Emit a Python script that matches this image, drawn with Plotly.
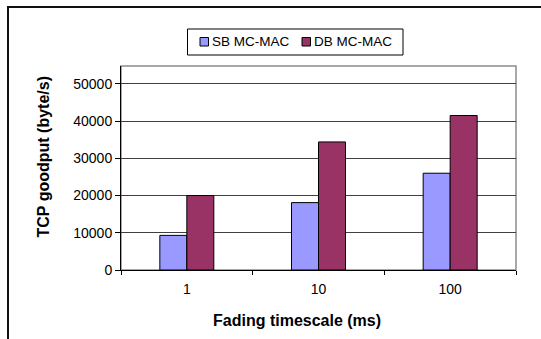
import plotly.graph_objects as go

# Fading timescale categories (ms) and TCP goodput (byte/s) per MAC scheme
categories = ["1", "10", "100"]
sb_mc_mac = [9300, 18100, 26000]
db_mc_mac = [20000, 34400, 41500]
y_ticks = [0, 10000, 20000, 30000, 40000, 50000]
y_tick_text = [str(v) for v in y_ticks]

series = [
    ("SB MC-MAC", sb_mc_mac, "#9999FF"),
    ("DB MC-MAC", db_mc_mac, "#993366"),
]

W, H = 541, 339
L, R, T, B = 121, 516, 66, 270  # plot area edges in pixels


def px_x(x):
    return (x - L) / (R - L)


def px_y(y):
    return (B - y) / (B - T)


font = "Liberation Sans, Arial, sans-serif"

fig = go.Figure()
for name, values, color in series:
    fig.add_trace(go.Bar(
        x=categories, y=values, name=name,
        marker=dict(color=color, line=dict(color="#000000", width=1)),
    ))

shapes = [
    # plot area frame
    dict(type="rect", xref="paper", yref="paper", x0=0, x1=1, y0=0, y1=1,
         line=dict(color="#8C8C8C", width=1.5), layer="below"),
    # chart area frame
    dict(type="rect", xref="paper", yref="paper",
         x0=px_x(8), x1=px_x(600), y0=px_y(400), y1=px_y(7),
         line=dict(color="#111111", width=2), layer="below"),
    # legend box
    dict(type="rect", xref="paper", yref="paper",
         x0=px_x(187.5), x1=px_x(403), y0=px_y(55), y1=px_y(29),
         line=dict(color="#000000", width=1), fillcolor="white", layer="above"),
]
annotations = [
    dict(text="<b>Fading timescale (ms)</b>", xref="paper", yref="paper",
         x=px_x(297), y=px_y(320), xanchor="center", yanchor="middle",
         showarrow=False, font=dict(size=16)),
    dict(text="<b>TCP goodput (byte/s)</b>", xref="paper", yref="paper",
         x=px_x(43), y=px_y(157.5), xanchor="center", yanchor="middle",
         textangle=-90, showarrow=False, font=dict(size=16)),
]

# legend entries: swatch + label
legend_x = [200, 302]
for (name, _, color), lx in zip(series, legend_x):
    shapes.append(dict(type="rect", xref="paper", yref="paper",
                       x0=px_x(lx), x1=px_x(lx + 8.5), y0=px_y(46), y1=px_y(37.5),
                       line=dict(color="#000000", width=1), fillcolor=color,
                       layer="above"))
    annotations.append(dict(text=name, xref="paper", yref="paper",
                            x=px_x(lx + 10), y=px_y(41.5), xanchor="left",
                            yanchor="middle", showarrow=False,
                            font=dict(size=13.5)))

fig.update_layout(
    width=W, height=H,
    margin=dict(l=L, r=W - R, t=T, b=H - B, pad=0),
    paper_bgcolor="white", plot_bgcolor="white",
    font=dict(family=font, color="#000000"),
    barmode="group", bargap=0.59, bargroupgap=0,
    showlegend=False,
    xaxis=dict(
        type="category", showline=True, linecolor="#000000", linewidth=1,
        ticks="outside", tickson="boundaries", ticklen=4, tickcolor="#000000",
        tickfont=dict(size=14), showgrid=False, ticklabelstandoff=6,
    ),
    yaxis=dict(
        range=[0, 54800], tickvals=y_ticks, ticktext=y_tick_text,
        showline=True, linecolor="#000000",
        linewidth=1, ticks="outside", ticklen=5, tickcolor="#000000",
        tickfont=dict(size=14), showgrid=True, gridcolor="#404040", gridwidth=1,
        zeroline=False,
    ),
    shapes=shapes,
    annotations=annotations,
)

fig.write_html("out.html")
